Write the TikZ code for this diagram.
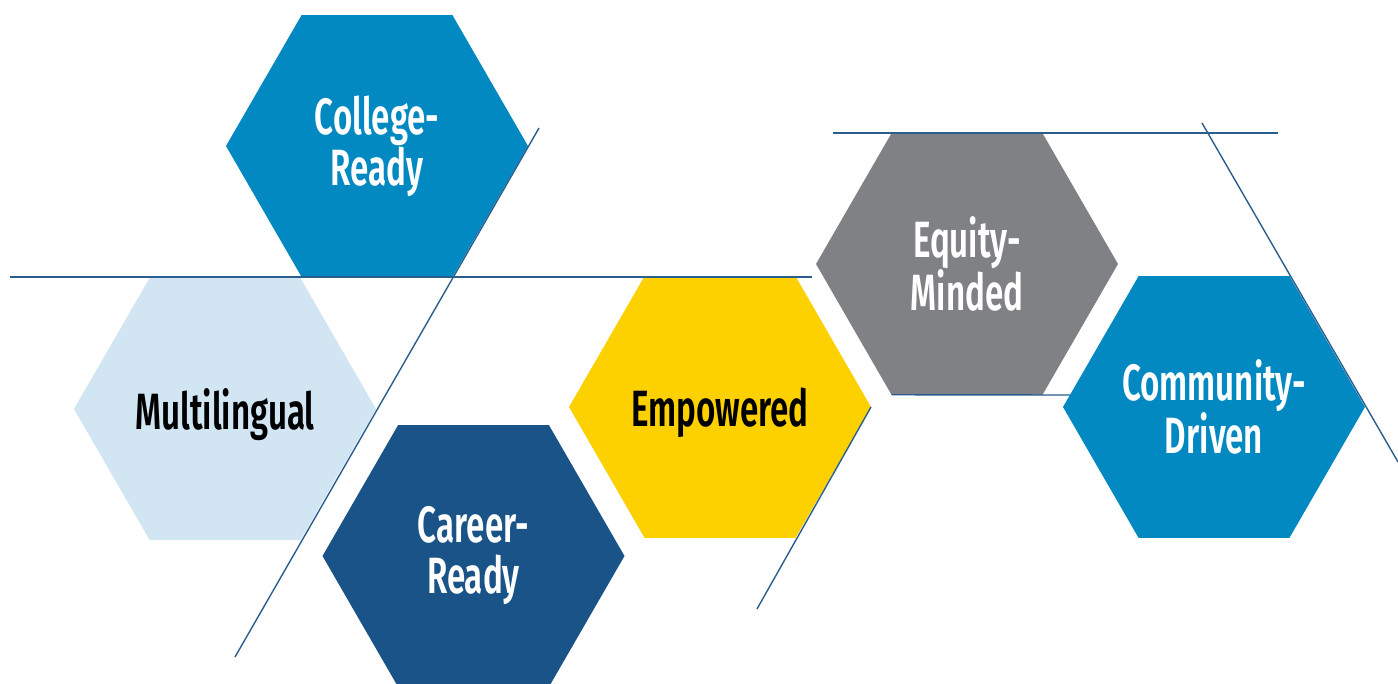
\documentclass[tikz,border=0pt]{standalone}
\usepackage{fontspec}
\newfontfamily\hexfont[FakeStretch=0.65]{Fira Sans SemiBold}
\usetikzlibrary{shapes.geometric}
\definecolor{hblue}{HTML}{0389C1}
\definecolor{hlight}{HTML}{D2E5F3}
\definecolor{hnavy}{HTML}{1A5387}
\definecolor{hyellow}{HTML}{FDD000}
\definecolor{hgray}{HTML}{808184}
\definecolor{linecol}{HTML}{2A5E8E}
\tikzset{
  hexa/.style={regular polygon, regular polygon sides=6, minimum size=302pt,
    inner sep=0pt, outer sep=0pt, draw=none, align=center,
    font=\hexfont\fontsize{51}{51}\selectfont},
  oneline/.style={text depth=0pt},
  deco/.style={draw=linecol, line width=1.4pt}
}
\begin{document}
\begin{tikzpicture}[x=1pt,y=-1pt]
\useasboundingbox[fill=white] (0,0) rectangle (1398,684);
\node[hexa, fill=hblue, text=white] (college) at (377,146) {College-\\Ready};
\node[hexa, oneline, fill=hlight, text=black] (multi) at (225,409) {Multilingual};
\node[hexa, fill=hnavy, text=white] (career) at (473.5,556) {Career-\\Ready};
\node[hexa, oneline, fill=hyellow, text=black] (empow) at (720,407) {Empowered};
\node[hexa, fill=hgray, text=white] (equity) at (967,264) {Equity-\\Minded};
\node[hexa, fill=hblue, text=white] (commun) at (1214,407) {Community-\\Driven};
\coordinate (h1a) at (10,277);
\coordinate (h1b) at (812,277);
\coordinate (d1a) at (539,128);
\coordinate (d1b) at (235,657);
\coordinate (h2a) at (833,133);
\coordinate (h2b) at (1278,133);
\coordinate (d2a) at (1202,123);
\coordinate (d2b) at (1398,462);
\coordinate (d3b) at (757,609);
\coordinate (h3b) at (1070,395);
\draw[deco] (h1a) -- (h1b);
\draw[deco] (d1a) -- (d1b);
\draw[deco] (h2a) -- (h2b);
\draw[deco] (d2a) -- (d2b);
\draw[deco] (empow.corner 6) -- (d3b);
\draw[deco] (equity.corner 4) -- (h3b);
\end{tikzpicture}
\end{document}
